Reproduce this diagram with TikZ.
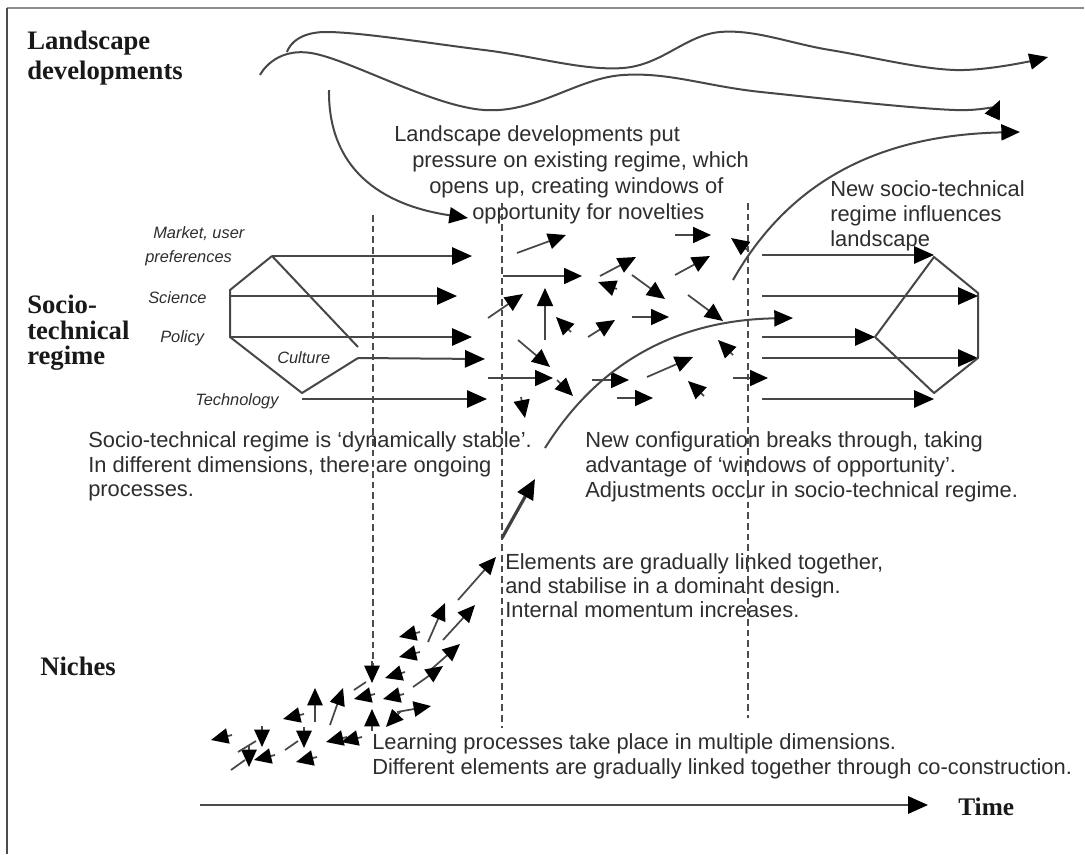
\documentclass[tikz,border=0pt]{standalone}
\usepackage{fontspec}
\setmainfont{Liberation Sans}
\newfontfamily\headfont{Liberation Serif}
\usetikzlibrary{arrows.meta}
\begin{document}
\begin{tikzpicture}[x=0.75pt,y=-0.75pt,
  ln/.style={line width=1.5pt, draw=black!72},
  big/.style={ln, -{Triangle[length=15pt,width=13pt,color=black]}},
  sm/.style={line width=1.3pt, draw=black!72, -{Triangle[length=13.5pt,width=12pt,color=black]}},
  ni/.style={line width=1.3pt, draw=black!72, -{Triangle[length=13pt,width=11.5pt,color=black]}},
  wave/.style={line width=1.5pt, draw=black!72, -{Triangle[length=14pt,width=12pt,color=black]}},
  dsh/.style={draw=black!70, line width=0.9pt, dash pattern=on 5pt off 3pt},
  head/.style={font=\headfont\bfseries\fontsize{20}{24}\selectfont, anchor=base west, inner sep=0pt, text=black!90},
  body/.style={font=\fontsize{16.4}{20}\selectfont, anchor=base west, inner sep=0pt, text=black!82},
  lab/.style={font=\itshape\fontsize{12.3}{14}\selectfont, anchor=base west, inner sep=0pt, text=black!82},
]
\useasboundingbox[fill=white] (0,0) rectangle (1085,854);
% frame
\draw[black!45, line width=2pt] (7,8) -- (1084,8);
\draw[black!70, line width=1pt] (7,8) -- (7,854);

% headings
\node[head] (ld1) at (27,49) {Landscape};
\node[head] (ld2) at (27,79) {developments};
\node[head] (st1) at (27,313) {Socio-};
\node[head] (st2) at (27,339) {technical};
\node[head] (st3) at (27,364) {regime};
\node[head] (nich) at (40,675) {Niches};
\node[head, font=\headfont\bfseries\fontsize{19}{22}\selectfont] (time) at (958,815) {Time};

% body texts
\node[body] (a1) at (394,141) {Landscape developments put};
\node[body] (a2) at (412,167) {pressure on existing regime, which};
\node[body] (a3) at (429,193) {opens up, creating windows of};
\node[body] (a4) at (472,219) {opportunity for novelties};

\node[body] (b1) at (830,196) {New socio-technical};
\node[body] (b2) at (830,221) {regime influences};
\node[body] (b3) at (830,246) {landscape};

\node[body] (c1) at (88,447) {Socio-technical regime is ‘dynamically stable’.};
\node[body] (c2) at (88,472) {In different dimensions, there are ongoing};
\node[body] (c3) at (88,496) {processes.};

\node[body] (d1) at (585,447) {New configuration breaks through, taking};
\node[body] (d2) at (585,472) {advantage of ‘windows of opportunity’.};
\node[body] (d3) at (585,497) {Adjustments occur in socio-technical regime.};

\node[body] (e1) at (505,569) {Elements are gradually linked together,};
\node[body] (e2) at (505,593) {and stabilise in a dominant design.};
\node[body] (e3) at (505,617) {Internal momentum increases.};

\node[body] (f1) at (372,749) {Learning processes take place in multiple dimensions.};
\node[body] (f2) at (372,774) {Different elements are gradually linked together through co-construction.};

% dimension labels
\node[lab] (lm1) at (153,238) {Market, user};
\node[lab] (lm2) at (145,262) {preferences};
\node[lab] (lsc) at (148,303) {Science};
\node[lab] (lpo) at (160,342) {Policy};
\node[lab] (lcu) at (277,363) {Culture};
\node[lab] (lte) at (195,405) {Technology};

% landscape waves
\draw[wave] plot[smooth, tension=0.6] coordinates {(287,52) (325,32) (484,50) (623,68) (720,32) (830,50) (955,70) (1048,57)};
\draw[wave] plot[smooth, tension=0.6] coordinates {(260,75) (311,53) (484,110) (623,75) (761,92) (955,110) (1000,100)};
\draw[wave] (329,90) .. controls (328,168) and (380,205) .. (468,218);
\draw[wave] (733,280) .. controls (790,180) and (880,135) .. (1020,132);

% dashed time lines
\draw[dsh] (373,215) -- (373,672);
\draw[dsh] (502,203) -- (502,728);
\draw[dsh] (748,203) -- (748,718);

% left regime
\coordinate (LT) at (272,256);
\coordinate (LU) at (230,290);
\coordinate (LL) at (230,337);
\coordinate (LB) at (302,393);
\coordinate (LR) at (358,358);
\draw[ln, line join=round] (LT) -- (LU) -- (LL) -- (LB) -- (LR);
\draw[ln] (LT) -- (358,347);
\draw[big] (LT) -- (472,256);
\draw[big] (230,296) -- (457,296);
\draw[big] (LL) -- (472,337);
\draw[big] (LR) -- (485,359);
\draw[big] (302,399) -- (487,399);

% right regime
\draw[big] (762,255) -- (934,255);
\draw[big] (762,296) -- (978,296);
\draw[big] (762,337) -- (875,337);
\draw[big] (762,358) -- (978,358);
\draw[big] (762,399) -- (934,399);
\draw[ln, line join=round] (934,257) -- (978,293) -- (978,358) -- (934,393) -- (875,337) -- cycle;

% unstable middle cluster
\foreach \a/\b/\c/\d in {517/253/566/235, 503/276/582/276, 488/318/523/294, 545/340/545/288,
  571/332/556/317, 518/340/550/367, 488/378/553/378, 557/380/573/396, 521/397/525/418,
  588/337/615/320, 617/289/598/282, 600/276/636/257, 632/275/665/299, 675/275/710/256,
  675/235/711/235, 749/251/731/238, 688/295/723/321, 632/317/669/317, 733/355/718/340,
  647/377/693/357, 592/380/629/380, 704/396/688/381, 617/398/653/398, 733/378/768/378}
  \draw[sm] (\a,\b) -- (\c,\d);

% breakthrough curve and thick arrow
\draw[wave] (545,448) .. controls (600,360) and (680,320) .. (793,318);
\draw[line width=2.4pt, draw=black!75, -{Triangle[length=15pt,width=13pt,color=black]}] (502,538) -- (535,479);

% niche cluster
\foreach \a/\b/\c/\d in {458/600/496/557, 428/642/445/603, 443/640/475/605, 420/632/399/637,
  420/652/399/657, 427/673/460/644, 413/687/443/666, 372/661/372/683, 405/672/385/678,
  375/694/354/699, 404/694/383/699, 397/712/431/706, 372/731/372/709, 401/711/386/727,
  315/722/315/688, 330/725/343/688, 304/714/283/719, 304/727/304/748, 347/737/326/742,
  362/737/341/742, 317/757/296/762, 262/726/262/747, 232/735/211/740, 249/746/249/767,
  275/755/254/760}
  \draw[ni] (\a,\b) -- (\c,\d);
\draw[line width=1.3pt, draw=black!72] (354,690) -- (366,682);
\draw[line width=1.3pt, draw=black!72] (285,750) -- (298,741);
\draw[line width=1.3pt, draw=black!72] (238,752) -- (256,741);
\draw[line width=1.3pt, draw=black!72] (231,770) -- (245,760);

% time axis
\draw[line width=1.7pt, draw=black!70, -{Triangle[length=15pt,width=13pt,color=black]}] (200,805) -- (928,805);
\end{tikzpicture}
\end{document}
